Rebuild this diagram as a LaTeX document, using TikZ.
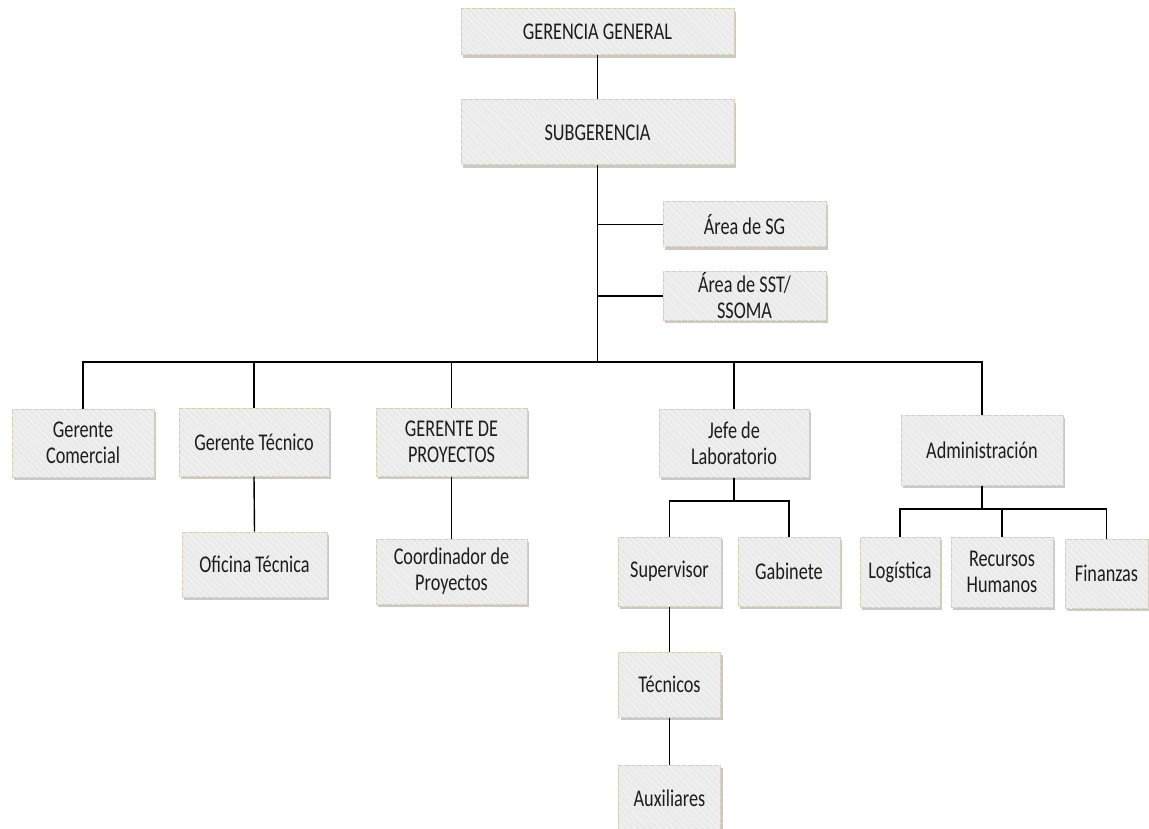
\documentclass[tikz,border=0pt]{standalone}
\usepackage{fontspec}
\setmainfont[FakeStretch=0.76]{Carlito}
\usetikzlibrary{shadows,patterns.meta}
\definecolor{boxborder}{RGB}{214,208,180}
\definecolor{boxfill}{RGB}{234,234,234}
\definecolor{txt}{RGB}{28,28,28}
\tikzset{
  orgbox/.style={draw=boxborder, line width=1pt, fill=boxfill, inner sep=0pt, align=center,
    text=txt, font=\fontsize{24}{26}\selectfont,
    drop shadow={shadow xshift=2pt, shadow yshift=-3pt, opacity=0.3, fill=black!70},
    postaction={pattern={Lines[angle=-45,distance=4.5pt,line width=0.6pt]}, pattern color=white!60!boxfill}},
  link/.style={line width=1.4pt, draw=black}
}
\begin{document}
\begin{tikzpicture}[x=1pt,y=-1pt]
\useasboundingbox (0,0) rectangle (1149,829);
\clip (0,0) rectangle (1149,829);
% top
\node[orgbox, minimum width=273, minimum height=46] (GG) at (597.5,32) {GERENCIA GENERAL};
\node[orgbox, minimum width=273, minimum height=65] (SUB) at (597.5,132.5) {SUBGERENCIA};
\node[orgbox, minimum width=163, minimum height=45] (SG) at (744.5,224.5) {Área de SG};
\node[orgbox, minimum width=163, minimum height=48] (SST) at (744.5,296) {Área de SST/\\SSOMA};
% second level
\node[orgbox, minimum width=142, minimum height=68] (GC) at (83,443) {Gerente\\Comercial};
\node[orgbox, minimum width=150, minimum height=68] (GT) at (254,442) {Gerente Técnico};
\node[orgbox, minimum width=151, minimum height=68] (GP) at (451.5,442) {GERENTE DE\\PROYECTOS};
\node[orgbox, minimum width=150, minimum height=68] (JL) at (734,443) {Jefe de\\Laboratorio};
\node[orgbox, minimum width=162, minimum height=70] (AD) at (982,450) {Administración};
% third level
\node[orgbox, minimum width=145, minimum height=65] (OT) at (254.5,564.5) {Oficina Técnica};
\node[orgbox, minimum width=151, minimum height=65] (CP) at (451.5,571.5) {Coordinador de\\Proyectos};
\node[orgbox, minimum width=103, minimum height=69] (SUP) at (669.5,571.5) {Supervisor};
\node[orgbox, minimum width=102, minimum height=69] (GAB) at (789,571.5) {Gabinete};
\node[orgbox, minimum width=80, minimum height=70] (LOG) at (900,572) {Logística};
\node[orgbox, minimum width=102, minimum height=70] (RH) at (1002,572) {Recursos\\Humanos};
\node[orgbox, minimum width=83, minimum height=69] (FIN) at (1106.5,573.5) {Finanzas};
\node[orgbox, minimum width=102, minimum height=65] (TEC) at (669.5,684.5) {Técnicos};
\node[orgbox, minimum width=102, minimum height=66] (AUX) at (669.5,798) {Auxiliares};
% connectors
\coordinate (bus) at (597.5,362);
\coordinate (labbus) at (734,501);
\coordinate (admbus) at (982,509);
\draw[link] (GG.south) -- (SUB.north);
\draw[link] (SUB.south) -- (bus);
\draw[link] (SG.west) -- (SG.west -| bus);
\draw[link] (SST.west) -- (SST.west -| bus);
\draw[link] (GC.north) |- (bus);
\draw[link] (GT.north) |- (bus);
\draw[link] (GP.north) |- (bus);
\draw[link] (JL.north) |- (bus);
\draw[link] (AD.north) |- (bus);
\draw[link] (GT.south) -- (OT.north);
\draw[link] (GP.south) -- (CP.north);
\draw[link] (JL.south) -- (labbus);
\draw[link] (SUP.north) |- (labbus);
\draw[link] (GAB.north) |- (labbus);
\draw[link] (AD.south) -- (admbus);
\draw[link] (LOG.north) |- (admbus);
\draw[link] (RH.north) |- (admbus);
\draw[link] (FIN.north) |- (admbus);
\draw[link] (SUP.south) -- (TEC.north);
\draw[link] (TEC.south) -- (AUX.north);
\end{tikzpicture}
\end{document}
